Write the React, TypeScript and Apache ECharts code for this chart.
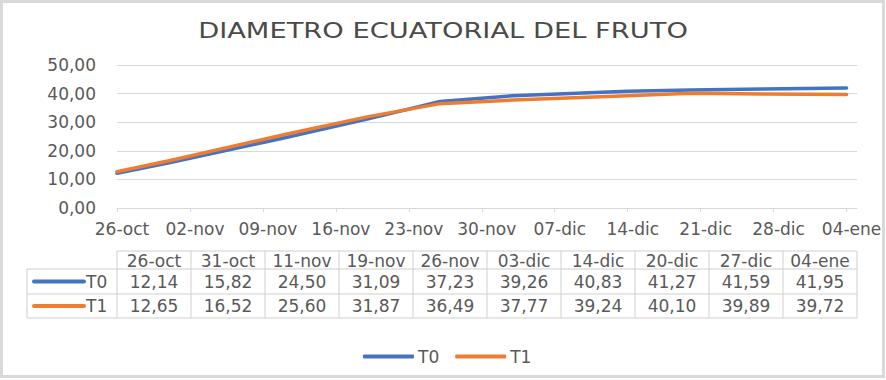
import React, { useEffect, useRef } from 'react';
import * as echarts from 'echarts';

// ---- data ----
const chartTitle = 'DIAMETRO ECUATORIAL DEL FRUTO';
const sampleDates = ['2020-10-26', '2020-10-31', '2020-11-11', '2020-11-19', '2020-11-26', '2020-12-03', '2020-12-14', '2020-12-20', '2020-12-27', '2021-01-04'];
const seriesNames = ['T0', 'T1'];
const t0Values = [12.14, 15.82, 24.5, 31.09, 37.23, 39.26, 40.83, 41.27, 41.59, 41.95];
const t1Values = [12.65, 16.52, 25.6, 31.87, 36.49, 37.77, 39.24, 40.1, 39.89, 39.72];
const seriesColors = ['#4472C4', '#ED7D31'];
const axisStartDate = '2020-10-26';
const axisEndDate = '2021-01-05';
const tickStepDays = 7;
const yMin = 0;
const yMax = 50;
const yStep = 10;
const monthsEs = ['ene', 'feb', 'mar', 'abr', 'may', 'jun', 'jul', 'ago', 'sep', 'oct', 'nov', 'dic'];

const DAY = 86400000;
const dayOf = (iso: string) => Math.round((Date.parse(iso) - Date.parse(axisStartDate)) / DAY);
const labelOf = (day: number) => {
  const d = new Date(Date.parse(axisStartDate) + day * DAY);
  return String(d.getUTCDate()).padStart(2, '0') + '-' + monthsEs[d.getUTCMonth()];
};
const fmt = (v: number) => v.toFixed(2).replace('.', ',');

const FONT = '"DejaVu Sans", sans-serif';
const TEXT = '#595959';

export default function App() {
  const ref = useRef<HTMLDivElement>(null);
  useEffect(() => {
    if (!ref.current) return;
    const chart = echarts.init(ref.current, undefined, { renderer: 'svg' });
    const endDay = dayOf(axisEndDate);
    const tickDays: number[] = [];
    for (let d = 0; d < endDay; d += tickStepDays) tickDays.push(d);

    const values = [t0Values, t1Values];

    // table layout
    const tLeft = 117, tRight = 857, keyLeft = 27;
    const rowY = [251, 269, 294, 318];
    const colW = (tRight - tLeft) / sampleDates.length;
    const lineColor = '#CFCFCF';
    const g: any[] = [];
    // border
    g.push({ type: 'rect', shape: { x: 1.5, y: 1.5, width: 882, height: 375 }, style: { fill: 'none', stroke: '#D9D9D9', lineWidth: 3 }, silent: true });
    // title
    g.push({ type: 'text', x: 443, y: 31, scaleX: 1.3, style: { text: chartTitle, x: 0, y: 0, align: 'center', verticalAlign: 'middle', font: `21px ${FONT}`, fill: '#4a4a4a' } });
    // horizontal lines
    g.push({ type: 'line', shape: { x1: tLeft, y1: rowY[0], x2: tRight, y2: rowY[0] }, style: { stroke: lineColor, lineWidth: 1 } });
    for (let r = 1; r < rowY.length; r++) {
      g.push({ type: 'line', shape: { x1: keyLeft, y1: rowY[r], x2: tRight, y2: rowY[r] }, style: { stroke: lineColor, lineWidth: 1 } });
    }
    g.push({ type: 'line', shape: { x1: keyLeft, y1: rowY[1], x2: keyLeft, y2: rowY[3] }, style: { stroke: lineColor, lineWidth: 1 } });
    for (let c = 0; c <= sampleDates.length; c++) {
      const x = tLeft + c * colW;
      g.push({ type: 'line', shape: { x1: x, y1: rowY[0], x2: x, y2: rowY[3] }, style: { stroke: lineColor, lineWidth: 1 } });
    }
    sampleDates.forEach((d, c) => {
      const cx = tLeft + c * colW + colW / 2;
      g.push({ type: 'text', style: { text: labelOf(dayOf(d)), x: cx, y: (rowY[0] + rowY[1]) / 2 + 1, align: 'center', verticalAlign: 'middle', font: `17px ${FONT}`, fill: TEXT } });
      values.forEach((vals, s) => {
        g.push({ type: 'text', style: { text: fmt(vals[c]), x: cx, y: (rowY[s + 1] + rowY[s + 2]) / 2, align: 'center', verticalAlign: 'middle', font: `17px ${FONT}`, fill: TEXT } });
      });
    });
    seriesNames.forEach((name, s) => {
      const cy = (rowY[s + 1] + rowY[s + 2]) / 2;
      g.push({ type: 'line', shape: { x1: 34, y1: cy, x2: 84, y2: cy }, style: { stroke: seriesColors[s], lineWidth: 4, lineCap: 'round' } });
      g.push({ type: 'text', style: { text: name, x: 86, y: cy, align: 'left', verticalAlign: 'middle', font: `17px ${FONT}`, fill: TEXT } });
    });

    chart.setOption({
      animation: false,
      graphic: g,
      grid: { left: 117, right: 29, top: 65, bottom: 172, containLabel: false },
      legend: {
        data: seriesNames,
        left: 358,
        top: 343,
        icon: 'roundRect',
        itemWidth: 51,
        itemHeight: 4,
        itemGap: 16,
        textStyle: { fontFamily: FONT, fontSize: 17, color: TEXT, padding: [0, 0, 0, -1] },
      },
      xAxis: {
        type: 'value',
        min: 0,
        max: endDay,
        splitLine: { show: false },
        axisLine: { show: true, lineStyle: { color: '#D9D9D9', width: 1 } },
        axisTick: { show: true, length: 4, lineStyle: { color: '#D9D9D9' }, customValues: tickDays },
        axisLabel: {
          customValues: tickDays,
          formatter: (v: number) => labelOf(v),
          fontFamily: FONT,
          fontSize: 17,
          color: TEXT,
          margin: 12,
          padding: [0, 0, 0, 10],
        },
      },
      yAxis: {
        type: 'value',
        min: yMin,
        max: yMax,
        interval: yStep,
        axisLine: { show: false },
        axisTick: { show: false },
        splitLine: { lineStyle: { color: '#D9D9D9', width: 1 } },
        axisLabel: { formatter: (v: number) => fmt(v), fontFamily: FONT, fontSize: 17, color: TEXT, margin: 21 },
      },
      series: seriesNames.map((name, s) => ({
        name,
        type: 'line',
        data: sampleDates.map((d, i) => [dayOf(d), values[s][i]]),
        showSymbol: false,
        symbol: 'none',
        lineStyle: { color: seriesColors[s], width: 3.5, cap: 'round', join: 'round' },
        itemStyle: { color: seriesColors[s] },
      })),
    });
    return () => chart.dispose();
  }, []);
  return <div ref={ref} style={{ position: 'fixed', left: 0, top: 0, width: 886, height: 380, background: '#fff' }} />;
}
